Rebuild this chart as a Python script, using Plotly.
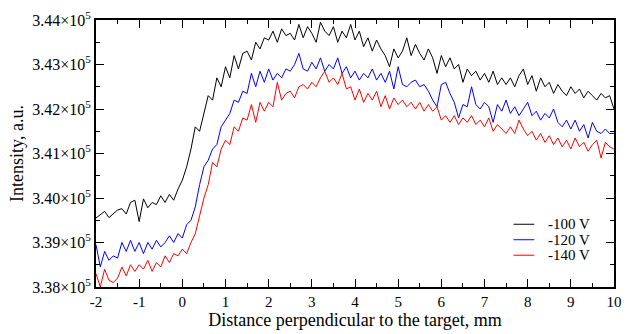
import plotly.graph_objects as go

# x grid: -2 .. 10 mm, step 0.1
x_mm = [round(-2 + 0.1 * i, 1) for i in range(121)]

v100 = [
    339550, 339620, 339700, 339560, 339650, 339730, 339760, 339640, 339900, 339950,
    339470, 339980, 339780, 339900, 339850, 340050, 339900, 340080, 339950, 340200,
    340400, 340700, 341100, 341600, 341500, 341900, 342300, 342200, 342700, 342500,
    342950, 342700, 343200, 342900, 343250, 343300, 343100, 343500, 343350, 343600,
    343550, 343750, 343500, 343800, 343650, 343700, 343550, 343900, 343600, 343850,
    343700, 343500, 343950, 343750, 343650, 343850, 343500, 343750, 343600, 343900,
    343550, 343750, 343400, 343600, 343300, 343550, 343350, 343200, 342950, 343350,
    343150, 343300, 343600, 343200, 343450, 343250, 343100, 343350, 343150, 342800,
    343200, 342950, 343150, 342900, 343000, 342600, 342900, 342750, 342850, 342650,
    342800, 342600, 342850, 342550, 342700, 342550, 342700, 342500, 342750, 342900,
    342550, 342750, 342400, 342700, 342500, 342600, 342350, 342550, 342400, 342300,
    342500, 342350, 342450, 342250, 342400, 342300, 342200, 342350, 342250, 342300,
    342000,
]

v120 = [
    338950, 338450, 338800, 338600, 338700, 338650, 339000, 338800, 339050, 338800,
    339000, 338750, 339000, 338850, 339050, 338900, 339000, 339150, 339000, 339200,
    339100, 339400, 339500, 339800, 340300, 340700, 340850, 341100, 341200, 341600,
    341750, 341900, 342200, 342150, 342400, 342350, 342800, 342500, 342850, 342600,
    342900, 342650, 342800, 342700, 342900, 342850, 343000, 343250, 342900, 342850,
    343050, 342900, 343150, 342850, 343000, 342900, 343150, 342800, 342950, 342700,
    342850, 342650, 342800, 342700, 342900, 342650, 342800, 342600, 342850, 342450,
    342950, 342550, 342500, 342600, 342650, 342500, 342550, 342400, 342200, 342050,
    342550, 342600, 342350, 342150, 341800, 342100, 342050, 342500, 342100, 342000,
    342150, 342050, 341700, 342100, 341950, 342200, 341900, 342050, 341850, 342000,
    342150, 341850, 341950, 341750, 341900, 341800, 342000, 341700, 341600, 341750,
    341550, 341750, 341500, 341650, 341350, 341700, 341500, 341450, 341550, 341450,
    341450,
]

v140 = [
    338300, 338000, 338400, 338150, 338100, 338200, 338450, 338250, 338500, 338350,
    338500, 338400, 338600, 338350, 338550, 338450, 338700, 338550, 338750, 338700,
    338850, 338750, 339000, 339200, 339600, 340000, 340300, 340800, 340700, 341100,
    341300, 341200, 341600, 341500, 341800, 341750, 342100, 341700, 342150, 341950,
    342150, 342050, 342600, 342200, 342350, 342400, 342250, 342500, 342550, 342450,
    342600, 342500, 342700, 342850, 342600, 342700, 342550, 342800, 342450, 342500,
    342200, 342450, 342150, 342350, 342200, 342400, 342050, 342300, 342000, 342250,
    342100, 342200, 342050, 342150, 342000, 342150, 341950, 342100, 341950, 342050,
    341750, 341850, 341700, 341850, 341650, 341800, 341700, 341850, 341650, 341750,
    341600, 341800, 341500, 341650, 341550, 341450, 341600, 341450, 341750, 341550,
    341400, 341500, 341300, 341450, 341250, 341400, 341200, 341350, 341150, 341300,
    341100, 341350, 341150, 341250, 341050, 341200, 341300, 340900, 341250, 341150,
    341100,
]

names = ["-100 V", "-120 V", "-140 V"]
values = [v100, v120, v140]
colors = ["#000000", "#0000ff", "#ff0000"]

y_ticks = [338000, 339000, 340000, 341000, 342000, 343000, 344000]
y_ticktext = ["%.2f×10<sup>5</sup>" % (v / 1e5) for v in y_ticks]
x_ticks = list(range(-2, 11))
x_ticktext = [str(v) for v in x_ticks]

FONT = "Liberation Serif, Times New Roman, serif"

fig = go.Figure()
for name, vals, col in zip(names, values, colors):
    fig.add_trace(go.Scatter(x=x_mm, y=vals, mode="lines", name=name,
                             line=dict(color=col, width=1), showlegend=False))

# Hand-placed legend (paper coordinates) to match compact row spacing
leg_rows_y = [0.235, 0.177, 0.119]
for name, col, yy in zip(names, colors, leg_rows_y):
    fig.add_shape(type="line", xref="paper", yref="paper",
                  x0=0.806, x1=0.846, y0=yy, y1=yy,
                  line=dict(color=col, width=1))
    fig.add_annotation(xref="paper", yref="paper", x=0.869, y=yy,
                       text=name, showarrow=False, xanchor="left", yanchor="middle",
                       font=dict(size=15, family=FONT, color="black"))

fig.update_layout(
    width=631, height=334,
    margin=dict(l=96, r=9, t=15, b=42),
    paper_bgcolor="white", plot_bgcolor="white",
    font=dict(family=FONT, size=16, color="black"),
    showlegend=False,
)
fig.update_xaxes(
    range=[-2, 10], tickvals=x_ticks, ticktext=x_ticktext,
    ticks="inside", ticklen=8, tickwidth=1, tickcolor="black",
    showline=True, linecolor="black", linewidth=2, mirror="allticks",
    showgrid=False, zeroline=False,
    tickfont=dict(size=15, family=FONT),
    minor=dict(ticks="inside", ticklen=4, tickwidth=1, tickcolor="black", dtick=0.5, showgrid=False),
    title=dict(text="Distance perpendicular to the target, mm", font=dict(size=18, family=FONT), standoff=2),
)
fig.update_yaxes(
    range=[338000, 344000], tickvals=y_ticks, ticktext=y_ticktext,
    ticks="inside", ticklen=8, tickwidth=1, tickcolor="black",
    showline=True, linecolor="black", linewidth=2, mirror="allticks",
    showgrid=False, zeroline=False,
    tickfont=dict(size=16, family=FONT),
    minor=dict(ticks="inside", ticklen=4, tickwidth=1, tickcolor="black", dtick=500, showgrid=False),
    title=dict(text="Intensity, a.u.", font=dict(size=18, family=FONT), standoff=4),
)

fig.write_html("out.html")
